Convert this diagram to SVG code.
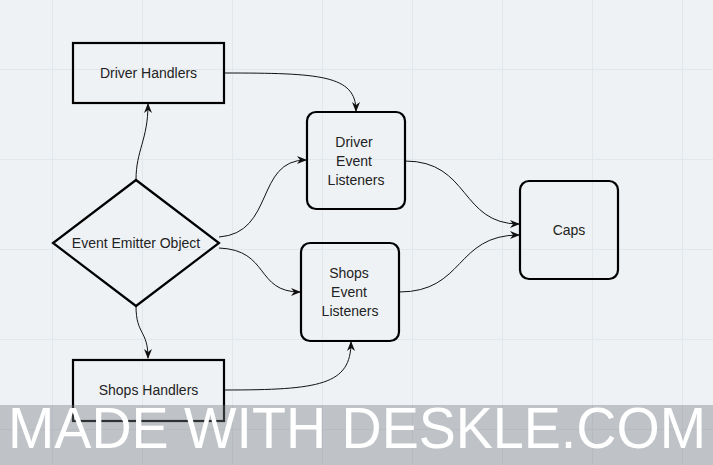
<svg xmlns="http://www.w3.org/2000/svg" width="713" height="465" viewBox="0 0 713 465">
<defs>
<style>
.bg{fill:#eff2f5}
.grid{stroke:#e2e7ec;stroke-width:1;fill:none}
.node{fill:none;stroke:#000;stroke-width:2.2}
.lbl{font-family:"Liberation Sans",Arial,sans-serif;font-size:14px;fill:#222;text-anchor:middle;dominant-baseline:central}
.edge{fill:none;stroke:#111;stroke-width:1}
.wm{font-family:"Liberation Sans",Arial,sans-serif;font-size:57px;fill:#fff}
</style>
<marker id="arr" viewBox="0 0 10 10" refX="9" refY="5" markerWidth="10" markerHeight="10" markerUnits="userSpaceOnUse" orient="auto">
<path d="M0,1 L10,5 L0,9 L3,5 Z" fill="#111"/>
</marker>
</defs>
<rect class="bg" x="0" y="0" width="713" height="465"/>
<g id="grid" class="grid">
<path d="M52.5,0V465M142.5,0V465M232.5,0V465M322.5,0V465M412.5,0V465M502.5,0V465M592.5,0V465M682.5,0V465"/>
<path d="M0,69.5H713M0,159.5H713M0,249.5H713M0,339.5H713M0,429.5H713"/>
</g>
<g id="connectors">
<path class="edge" marker-end="url(#arr)" d="M136,180 C136,150 148,140 148,104"/>
<path class="edge" marker-end="url(#arr)" d="M224,73 C320,73 356,75 356,111"/>
<path class="edge" marker-end="url(#arr)" d="M219,237 C275,233 255,160 306,160"/>
<path class="edge" marker-end="url(#arr)" d="M219,248 C270,250 255,292 300,292"/>
<path class="edge" marker-end="url(#arr)" d="M136,306 C136,335 148,330 148,358"/>
<path class="edge" marker-end="url(#arr)" d="M224,390 C320,390 351,385 351,342"/>
<path class="edge" marker-end="url(#arr)" d="M405,161 C470,161 460,224 519,224"/>
<path class="edge" marker-end="url(#arr)" d="M399,292 C465,292 455,235 519,235"/>
</g>
<g id="driver-handlers">
<rect class="node" x="73" y="43" width="151" height="60"/>
<text class="lbl" x="148.5" y="73">Driver Handlers</text>
</g>
<g id="event-emitter">
<polygon class="node" points="136,180 219,243 136,306 53,243"/>
<text class="lbl" x="136" y="243">Event Emitter Object</text>
</g>
<g id="driver-event-listeners">
<rect class="node" x="307" y="112" width="98" height="97" rx="9"/>
<text class="lbl" x="354" y="142">Driver</text>
<text class="lbl" x="354" y="161">Event</text>
<text class="lbl" x="356" y="180">Listeners</text>
</g>
<g id="shops-event-listeners">
<rect class="node" x="301" y="243" width="98" height="98" rx="9"/>
<text class="lbl" x="349" y="273">Shops</text>
<text class="lbl" x="349" y="292">Event</text>
<text class="lbl" x="350" y="311">Listeners</text>
</g>
<g id="caps">
<rect class="node" x="520" y="181" width="98" height="98" rx="9"/>
<text class="lbl" x="569" y="230">Caps</text>
</g>
<g id="shops-handlers">
<rect class="node" x="73" y="360" width="151" height="61"/>
<text class="lbl" x="148.5" y="390">Shops Handlers</text>
</g>
<g id="watermark">
<rect x="0" y="405" width="713" height="60" fill="#777b80" fill-opacity="0.4"/>
<text class="wm" x="8" y="448" textLength="698" lengthAdjust="spacingAndGlyphs">MADE WITH DESKLE.COM</text>
</g>
</svg>
